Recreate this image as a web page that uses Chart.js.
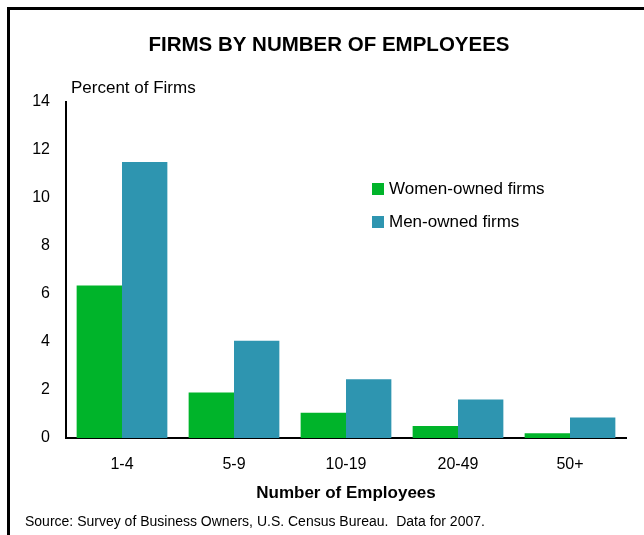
<!DOCTYPE html>
<html>
<head>
<meta charset="utf-8">
<script src="https://cdn.jsdelivr.net/npm/chart.js@4.4.1/dist/chart.umd.min.js"></script>
<style>
  html, body { margin: 0; padding: 0; background: #fff; }
  #wrap { width: 644px; height: 535px; position: relative; }
</style>
</head>
<body>
<div id="wrap"><canvas id="c" width="644" height="535"></canvas></div>
<script>
const categories = ['1-4', '5-9', '10-19', '20-49', '50+'];
const womenOwned = [6.35, 1.9, 1.05, 0.5, 0.2];
const menOwned = [11.5, 4.05, 2.45, 1.6, 0.85];
const seriesNames = ['Women-owned firms', 'Men-owned firms'];
const yTicks = [0, 2, 4, 6, 8, 10, 12, 14];
const chartTitle = 'FIRMS BY NUMBER OF EMPLOYEES';
const yAxisLabel = 'Percent of Firms';
const xAxisLabel = 'Number of Employees';
const sourceNote = 'Source: Survey of Business Owners, U.S. Census Bureau.  Data for 2007.';

const FONT = '"Liberation Sans", Arial, sans-serif';
const GREEN = '#00B42A';
const TEAL = '#2E95B0';

const decor = {
  id: 'decor',
  afterDraw(chart) {
    const ctx = chart.ctx;
    const area = chart.chartArea;
    ctx.save();
    // outer frame (extends beyond right/bottom edges)
    ctx.strokeStyle = '#000';
    ctx.lineWidth = 3;
    ctx.beginPath();
    ctx.moveTo(8.5, 540);
    ctx.lineTo(8.5, 8.5);
    ctx.lineTo(650, 8.5);
    ctx.stroke();

    ctx.fillStyle = '#000';
    ctx.textBaseline = 'middle';
    // title
    ctx.font = 'bold 20.5px ' + FONT;
    ctx.textAlign = 'center';
    ctx.fillText(chartTitle, 329, 45);
    // y label
    ctx.font = '17px ' + FONT;
    ctx.textAlign = 'left';
    ctx.fillText(yAxisLabel, 71, 88);
    // x title
    ctx.font = 'bold 17px ' + FONT;
    ctx.textAlign = 'center';
    ctx.fillText(xAxisLabel, (area.left + area.right) / 2, 493);
    // source
    ctx.font = '14px ' + FONT;
    ctx.textAlign = 'left';
    ctx.fillText(sourceNote, 25, 522);

    // legend
    const ds = chart.data.datasets;
    const legY = [189, 222];
    ctx.font = '17px ' + FONT;
    ds.forEach((d, i) => {
      ctx.fillStyle = d.backgroundColor;
      ctx.fillRect(372, legY[i] - 6, 12, 12);
      ctx.fillStyle = '#000';
      ctx.fillText(d.label, 389, legY[i]);
    });
    ctx.restore();
  }
};

new Chart(document.getElementById('c'), {
  type: 'bar',
  data: {
    labels: categories,
    datasets: [
      { label: seriesNames[0], data: womenOwned, backgroundColor: GREEN, borderWidth: 0 },
      { label: seriesNames[1], data: menOwned, backgroundColor: TEAL, borderWidth: 0 }
    ]
  },
  options: {
    responsive: false,
    animation: false,
    devicePixelRatio: 1,
    layout: { padding: { left: 10, top: 102, right: 18, bottom: 0 } },
    plugins: {
      legend: { display: false },
      title: { display: false },
      tooltip: { enabled: false }
    },
    datasets: { bar: { categoryPercentage: 0.81, barPercentage: 1.0 } },
    scales: {
      x: {
        grid: { display: false, drawTicks: false },
        border: { display: true, color: '#000', width: 2 },
        ticks: { color: '#000', font: { family: FONT, size: 16 }, padding: 17, maxRotation: 0 },
        afterFit(scale) { scale.height = 97; }
      },
      y: {
        min: 0, max: 14,
        afterBuildTicks(scale) { scale.ticks = yTicks.map(v => ({ value: v })); },
        grid: { display: false, drawTicks: false },
        border: { display: true, color: '#000', width: 2 },
        ticks: { color: '#000', font: { family: FONT, size: 16 }, padding: 16 },
        afterFit(scale) { scale.width = 56; }
      }
    }
  },
  plugins: [decor]
});
</script>
</body>
</html>
